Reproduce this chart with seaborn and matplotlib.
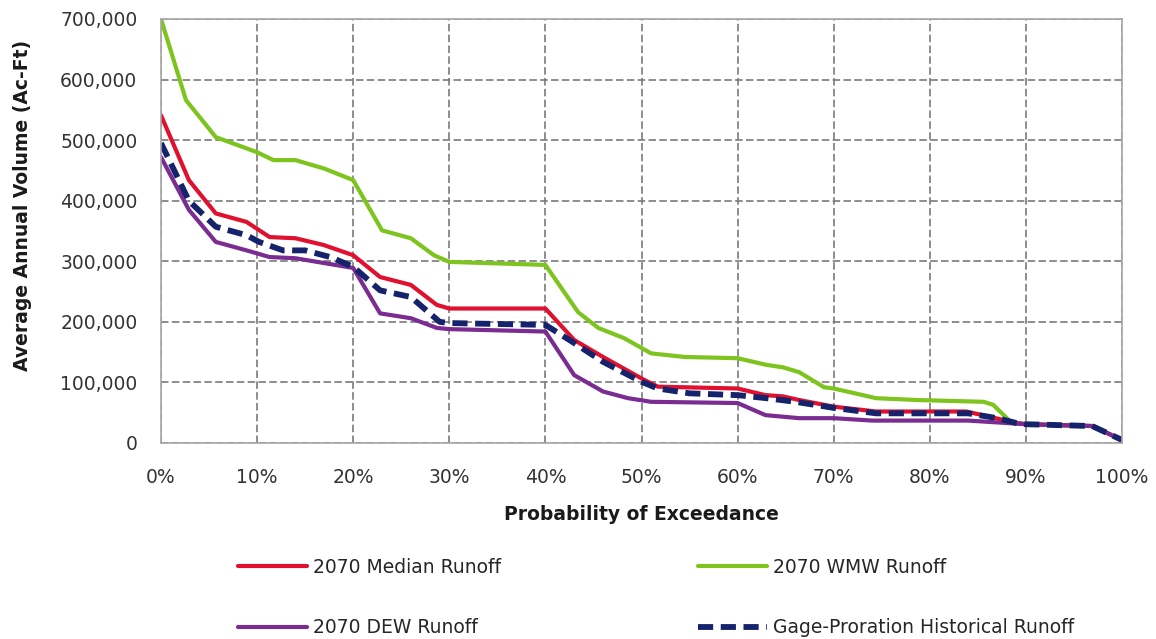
import matplotlib
matplotlib.use("Agg")
import matplotlib.pyplot as plt
import matplotlib.ticker as mticker
import seaborn as sns
import pandas as pd

# ---- data (probability of exceedance in %, volume in Ac-Ft) ----
median_x = [0, 2.9, 5.7, 8.9, 11.3, 14, 16.9, 20, 22.8, 26, 28.7, 30, 40, 43, 46, 50.3, 51.7,
            60, 62.9, 64.7, 66.4, 70, 74.4, 83.8, 86.3, 89, 90, 96.9, 100]
median_y = [541000, 434000, 379000, 365000, 340000, 338000, 327000, 310000, 274000, 261000,
            228000, 222000, 222000, 170000, 142000, 104000, 93000, 90000, 79000, 77000, 71000,
            60000, 52000, 52000, 43000, 33000, 31000, 28000, 5000]

wmw_x = [0, 2.6, 5.7, 10, 11.7, 14, 17, 20, 23, 26, 28.4, 30, 40, 43.4, 45.5, 48.2, 51, 54.5,
         60, 63, 64.7, 66.4, 69, 70, 74.4, 78.6, 85.6, 86.6, 88.4, 90, 96.9, 100]
wmw_y = [700000, 566000, 505000, 480000, 467000, 467000, 453000, 434000, 351000, 338000,
         310000, 299000, 294000, 216000, 190000, 173000, 148000, 142000, 140000, 129000,
         125000, 117000, 92000, 90000, 74000, 71000, 68000, 63000, 35000, 31000, 28000, 5000]

dew_x = [0, 2.9, 5.7, 8.9, 11.3, 14, 17, 20, 22.8, 26, 28.7, 30, 40, 43, 46, 48.6, 51, 60,
         62.9, 66.4, 70, 74, 84, 88, 90, 96.9, 100]
dew_y = [472000, 385000, 332000, 318000, 307000, 305000, 297000, 289000, 214000, 206000,
         190000, 188000, 184000, 112000, 85000, 74000, 68000, 66000, 46000, 41000, 41000,
         37000, 37000, 33000, 31000, 28000, 5000]

gage_x = [0, 2.9, 5.7, 8.9, 10.2, 12.7, 15, 17.6, 20, 22.8, 26, 29, 30, 40, 43, 46, 50, 51.7,
          55, 60, 63, 66, 70, 74.4, 84, 87, 89, 90, 96.9, 100]
gage_y = [495000, 400000, 357000, 343000, 332000, 318000, 318000, 307000, 291000, 252000,
          241000, 200000, 198000, 195000, 165000, 134000, 101000, 90000, 82000, 79000, 74000,
          68000, 58000, 49000, 49000, 41000, 33000, 31000, 28000, 5000]

series_names = ["2070 Median Runoff", "2070 DEW Runoff", "2070 WMW Runoff",
                "Gage-Proration Historical Runoff"]
y_ticks = [0, 100000, 200000, 300000, 400000, 500000, 600000, 700000]
x_ticks = [0, 10, 20, 30, 40, 50, 60, 70, 80, 90, 100]

sns.set_theme(style="white")
plt.rcParams['font.family'] = ['DejaVu Sans']

W, H = 1156, 639
fig = plt.figure(figsize=(W / 100, H / 100), dpi=100)
ax = fig.add_axes([161 / W, 1 - 443 / H, (1122 - 161) / W, (443 - 19) / H])

colors = {"2070 Median Runoff": "#E0102F", "2070 DEW Runoff": "#7B2C91",
          "2070 WMW Runoff": "#7DC41F", "Gage-Proration Historical Runoff": "#14236B"}
data = {"2070 Median Runoff": (median_x, median_y), "2070 DEW Runoff": (dew_x, dew_y),
        "2070 WMW Runoff": (wmw_x, wmw_y), "Gage-Proration Historical Runoff": (gage_x, gage_y)}

order_draw = ["2070 WMW Runoff", "2070 Median Runoff", "2070 DEW Runoff",
              "Gage-Proration Historical Runoff"]
handles = {}
for name in order_draw:
    xs, ys = data[name]
    df = pd.DataFrame({"x": [v / 100 for v in xs], "y": ys})
    if name.startswith("Gage"):
        sns.lineplot(data=df, x="x", y="y", ax=ax, color=colors[name], lw=4.2,
                     estimator=None, sort=False, label=name, dashes=False)
        ax.lines[-1].set_dashes([2.6, 1.3])
    else:
        sns.lineplot(data=df, x="x", y="y", ax=ax, color=colors[name], lw=3,
                     estimator=None, sort=False, label=name)
    handles[name] = ax.lines[-1]
ax.get_legend().remove()

ax.set_xlim(0, 1)
ax.set_ylim(0, 700000)
ax.set_xticks([v / 100 for v in x_ticks])
ax.set_yticks(y_ticks)
ax.xaxis.set_major_formatter(mticker.PercentFormatter(1.0, decimals=0))
ax.yaxis.set_major_formatter(mticker.FuncFormatter(lambda v, p: f"{int(v):,}"))
ax.tick_params(axis="x", length=0, pad=18, labelsize=13.5, labelcolor="#333333")
ax.tick_params(axis="y", length=0, pad=17, labelsize=13.5, labelcolor="#333333")

ax.grid(True, color="#7a7a7a", linestyle=(0, (4.5, 2)), linewidth=1.2)
for s in ax.spines.values():
    s.set_color("#a6a6a6")
    s.set_linewidth(1.2)

ax.set_xlabel("Probability of Exceedance", fontsize=13.5, fontweight="bold", color="#1a1a1a")
ax.set_ylabel("Average Annual Volume (Ac-Ft)", fontsize=13.5, fontweight="bold", color="#1a1a1a")
ax.xaxis.set_label_coords(0.5, -0.147)
ax.yaxis.set_label_coords(-0.134, 0.561)

leg_handles = [handles[n] for n in series_names]
fig.legend(leg_handles, series_names, loc="upper left", ncol=2, frameon=False,
           bbox_to_anchor=(238 / W, 1 - 558 / H), borderpad=0, borderaxespad=0,
           handlelength=3.7, handletextpad=0.3, labelspacing=2.2, columnspacing=10.5,
           prop={"size": 13.5})

fig.savefig("out.png", dpi=100)
